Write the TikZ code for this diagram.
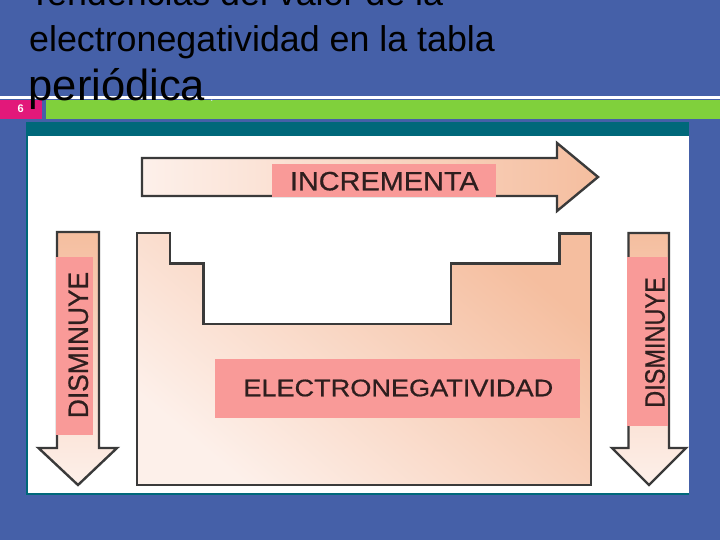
\documentclass[tikz,border=0pt]{standalone}
\usepackage{fontspec}
\setmainfont{Liberation Sans}
\definecolor{bgblue}{HTML}{4560A8}
\definecolor{magbar}{HTML}{E2187A}
\definecolor{greenbar}{HTML}{80D03C}
\definecolor{tealbar}{HTML}{00687A}
\definecolor{pinklab}{HTML}{F99A98}
\definecolor{peach}{HTML}{F5BE9F}
\definecolor{lightpeach}{HTML}{FDF0EA}
\definecolor{outl}{HTML}{3A3A3A}
\definecolor{labtext}{HTML}{2E1E1E}
\definecolor{dotcol}{HTML}{D0D8F0}
\tikzset{
  shapeline/.style={draw=outl, line width=2.4pt, line join=miter},
  labbox/.style={fill=pinklab, inner sep=0pt},
  labtxt/.style={text=labtext, inner sep=0pt},
  titletxt/.style={anchor=base west, inner sep=0pt, text=black}
}
\begin{document}
\begin{tikzpicture}[x=1pt,y=-1pt]
\useasboundingbox (0,0) rectangle (720,540);
\fill[bgblue] (0,0) rectangle (720,540);
% header bars
\fill[white] (0,96) rectangle (720,99.3);
\fill[magbar] (0,100) rectangle (42,119.3);
\fill[greenbar] (46,100) rectangle (720,119.3);
\node[text=white, font=\bfseries\fontsize{11}{11}\selectfont, inner sep=0pt] (num) at (20.7,109) {6};
% panel
\fill[tealbar] (25.5,122.3) rectangle (689,494.5);
\fill[white] (27.5,136.5) rectangle (688.5,492.5);
% title
\node[titletxt, font=\fontsize{35.8}{35.8}\selectfont] (t1) at (29,6) {Tendencias del valor de la};
\node[titletxt, font=\fontsize{35.8}{35.8}\selectfont] (t2) at (29,52) {electronegatividad en la tabla};
\node[titletxt, font=\fontsize{43.5}{43.5}\selectfont] (t3) at (28.5,101) {periódica};
\node[anchor=base west, inner sep=0pt, text=dotcol, font=\fontsize{12}{12}\selectfont] (dot) at (210,101.5) {.};
% table shape
\path[shapeline, top color=peach, bottom color=lightpeach, shading angle=-40]
  (137,233) -- (170,233) -- (170,263.5) -- (203.5,263.5) -- (203.5,324) -- (451,324)
  -- (451,263.5) -- (559.5,263.5) -- (559.5,233.5) -- (591,233.5) -- (591,485) -- (137,485) -- cycle;
% horizontal arrow
\path[shapeline, left color=lightpeach, right color=peach]
  (142,158) -- (557,158) -- (557,143) -- (598,177) -- (557,211) -- (557,196) -- (142,196) -- cycle;
% vertical arrows
\path[shapeline, top color=peach, bottom color=lightpeach]
  (57,232) -- (99,232) -- (99,448) -- (117,448) -- (78,485) -- (38.5,448) -- (57,448) -- cycle;
\path[shapeline, top color=peach, bottom color=lightpeach]
  (628.5,233) -- (669,233) -- (669,448) -- (686,448) -- (649,485) -- (612,448) -- (628.5,448) -- cycle;
% label boxes
\node[labbox, minimum width=224pt, minimum height=33pt] (incbox) at (384,180.5) {};
\node[labbox, minimum width=36.7pt, minimum height=178.3pt] (dlbox) at (74.3,345.8) {};
\node[labbox, minimum width=41.6pt, minimum height=169.3pt] (drbox) at (647.5,341.3) {};
\node[labbox, minimum width=365pt, minimum height=58.7pt] (enbox) at (397.5,388.3) {};
% label texts
\node[labtxt, font=\fontsize{26.5}{26.5}\selectfont\addfontfeature{FakeBold=0.6}] (inc) at (384.3,181.2) {\scalebox{1.09}[1]{INCREMENTA}};
\node[labtxt, font=\fontsize{28}{28}\selectfont\addfontfeature{FakeBold=0.6}, rotate=90] (dl) at (78.3,345) {\scalebox{0.94}[1]{DISMINUYE}};
\node[labtxt, font=\fontsize{28}{28}\selectfont\addfontfeature{FakeBold=0.6}, rotate=90] (dr) at (655,342.5) {\scalebox{0.84}[1]{DISMINUYE}};
\node[labtxt, font=\fontsize{24}{24}\selectfont\addfontfeature{FakeBold=0.6}] (en) at (398.3,388) {\scalebox{1.13}[1]{ELECTRONEGATIVIDAD}};
\end{tikzpicture}
\end{document}
